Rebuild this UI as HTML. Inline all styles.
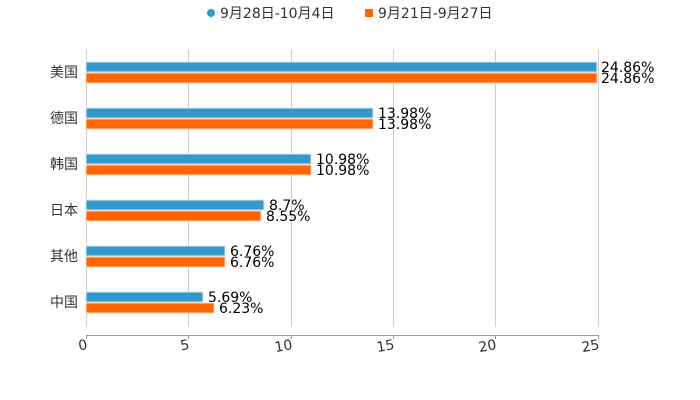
<!DOCTYPE html>
<html><head><meta charset="utf-8"><style>
body{margin:0;background:#fff;}
svg{display:block;font-family:"DejaVu Sans","Noto Sans CJK SC",sans-serif;}
</style></head><body>
<svg width="700" height="400" xmlns="http://www.w3.org/2000/svg">
<g font-size="14" fill="#333">
<circle cx="211" cy="13" r="4" fill="#3399cc"/>
<text x="220" y="18">9月28日-10月4日</text>
<rect x="365" y="9" width="8" height="8" rx="1" fill="#ff6600"/>
<text x="378" y="18">9月21日-9月27日</text>
</g>
<g stroke="#ccc" stroke-width="1">
<line x1="86.5" y1="50" x2="86.5" y2="327"/>
<line x1="188.5" y1="50" x2="188.5" y2="327"/>
<line x1="291.5" y1="50" x2="291.5" y2="327"/>
<line x1="393.5" y1="50" x2="393.5" y2="327"/>
<line x1="495.5" y1="50" x2="495.5" y2="327"/>
<line x1="598.5" y1="50" x2="598.5" y2="327"/>
</g>
<line x1="86" y1="335.5" x2="599" y2="335.5" stroke="#999"/>
<g stroke="#999"><line x1="86.5" y1="335" x2="86.5" y2="339"/><line x1="188.5" y1="335" x2="188.5" y2="339"/><line x1="291.5" y1="335" x2="291.5" y2="339"/><line x1="393.5" y1="335" x2="393.5" y2="339"/><line x1="495.5" y1="335" x2="495.5" y2="339"/><line x1="598.5" y1="335" x2="598.5" y2="339"/></g>
<g font-size="14" fill="#333" text-anchor="end">
<text transform="translate(88,349) rotate(-10)">0</text>
<text transform="translate(190,349) rotate(-10)">5</text>
<text transform="translate(293,349) rotate(-10)">10</text>
<text transform="translate(395,349) rotate(-10)">15</text>
<text transform="translate(497,349) rotate(-10)">20</text>
<text transform="translate(600,349) rotate(-10)">25</text>
</g>
<g font-size="14" fill="#333" text-anchor="end">
<text x="78" y="77">美国</text>
<text x="78" y="123">德国</text>
<text x="78" y="169">韩国</text>
<text x="78" y="215">日本</text>
<text x="78" y="261">其他</text>
<text x="78" y="307">中国</text>
</g>
<g stroke="#d8e8f0" stroke-width="1">
<rect x="86" y="62" width="511" height="10" fill="#3399cc"/>
<rect x="86" y="108" width="287" height="10" fill="#3399cc"/>
<rect x="86" y="154" width="225" height="10" fill="#3399cc"/>
<rect x="86" y="200" width="178" height="10" fill="#3399cc"/>
<rect x="86" y="246" width="139" height="10" fill="#3399cc"/>
<rect x="86" y="292" width="117" height="10" fill="#3399cc"/>
</g>
<g stroke="#ffd0b0" stroke-width="1">
<rect x="86" y="73" width="511" height="10" fill="#ff6600"/>
<rect x="86" y="119" width="287" height="10" fill="#ff6600"/>
<rect x="86" y="165" width="225" height="10" fill="#ff6600"/>
<rect x="86" y="211" width="175" height="10" fill="#ff6600"/>
<rect x="86" y="257" width="139" height="10" fill="#ff6600"/>
<rect x="86" y="303" width="128" height="10" fill="#ff6600"/>
</g>
<g font-size="14" fill="#000">
<text x="601" y="72">24.86%</text><text x="601" y="83">24.86%</text>
<text x="378" y="118">13.98%</text><text x="378" y="129">13.98%</text>
<text x="316" y="164">10.98%</text><text x="316" y="175">10.98%</text>
<text x="269" y="210">8.7%</text><text x="266" y="221">8.55%</text>
<text x="230" y="256">6.76%</text><text x="230" y="267">6.76%</text>
<text x="208" y="302">5.69%</text><text x="219" y="313">6.23%</text>
</g>
</svg>
</body></html>
